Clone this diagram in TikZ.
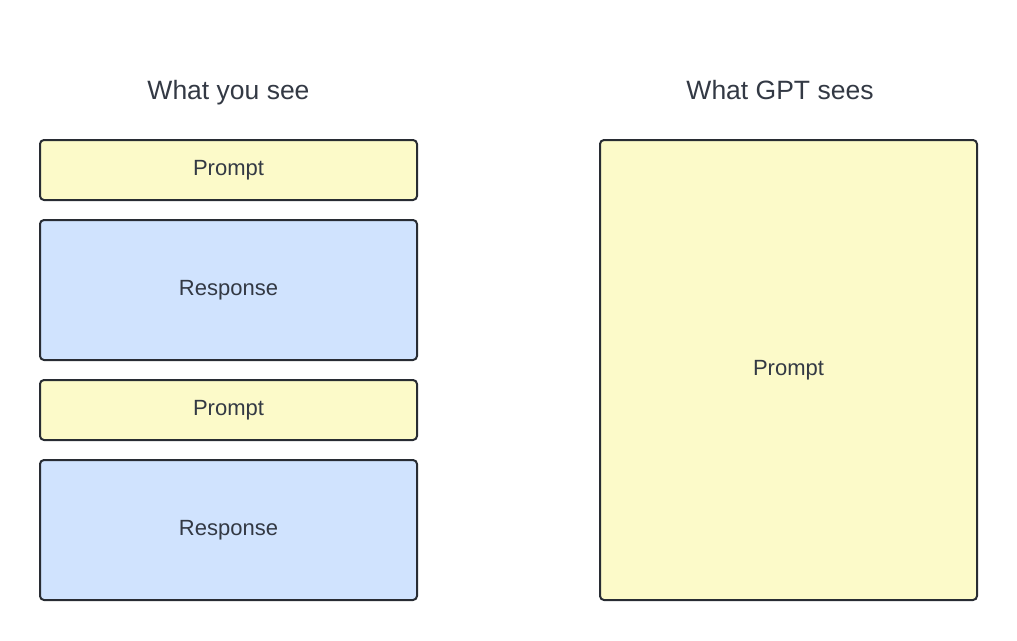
\documentclass[tikz,border=0pt]{standalone}
\usepackage{fontspec}
\setmainfont{Liberation Sans}
\definecolor{ylw}{HTML}{FCFAC9}
\definecolor{blu}{HTML}{D0E3FE}
\definecolor{edge}{HTML}{282C33}
\definecolor{txt}{HTML}{333944}
\begin{document}
\begin{tikzpicture}[x=1pt,y=-1pt,
  boxy/.style={draw=edge,line width=2pt,rounded corners=4pt,fill=ylw,text=txt,font=\fontsize{22}{26}\selectfont},
  boxb/.style={boxy,fill=blu},
  ttl/.style={text=txt,anchor=base,font=\fontsize{26.5}{32}\selectfont}]
\useasboundingbox (0,0) rectangle (1017,640);
\node[boxy,minimum width=377pt,minimum height=60pt] (p1) at (228.5,170) {Prompt};
\node[boxb,minimum width=377pt,minimum height=140pt] (r1) at (228.5,290) {Response};
\node[boxy,minimum width=377pt,minimum height=60pt] (p2) at (228.5,410) {Prompt};
\node[boxb,minimum width=377pt,minimum height=140pt] (r2) at (228.5,530) {Response};
\node[boxy,minimum width=377pt,minimum height=460pt] (pg) at (788.5,370) {Prompt};
\node[ttl] (t1) at (228.5,99) {What you see};
\node[ttl] (t2) at (780,99) {What GPT sees};
\end{tikzpicture}
\end{document}
